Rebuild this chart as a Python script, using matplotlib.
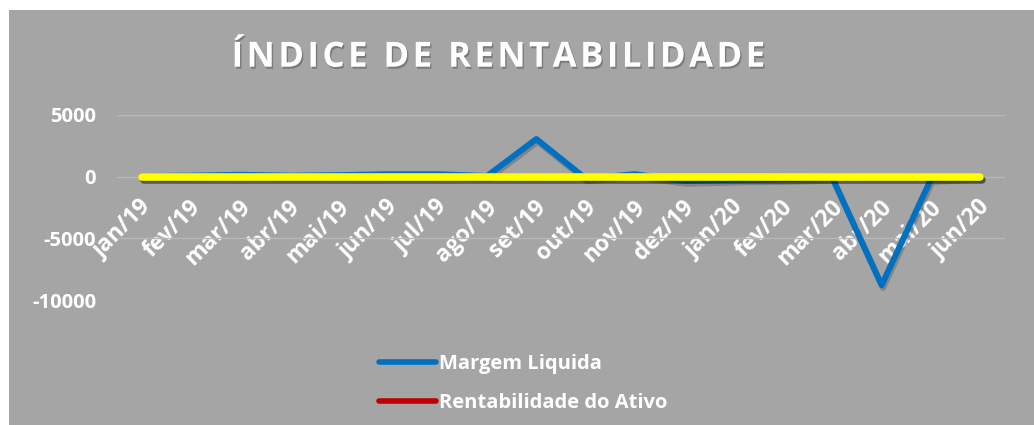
import matplotlib.pyplot as plt
import matplotlib.patheffects as pe
import matplotlib.transforms as mtransforms
import numpy as np

meses = ['jan/19', 'fev/19', 'mar/19', 'abr/19', 'mai/19', 'jun/19', 'jul/19', 'ago/19', 'set/19',
         'out/19', 'nov/19', 'dez/19', 'jan/20', 'fev/20', 'mar/20', 'abr/20', 'mai/20', 'jun/20']
margem_liquida = [50, 80, 150, 80, 120, 200, 200, 50, 3050,
                  -150, 200, -350, -250, -200, -100, -8800, -200, 0]
rentabilidade_ativo = [2, 2, 3, 2, 2, 3, 3, 2, 4,
                       1, 2, -60, -40, -20, 1, -5, 1, 1]
serie_amarela = [0, 0, 0, 0, 0, 0, 0, 0, 0,
                 0, 0, 0, 0, 0, 0, 0, 0, 0]
y_ticks = [5000, 0, -5000, -10000]
titulo = 'ÍNDICE DE RENTABILIDADE'

fundo = '#a5a5a5'
fonte = 'Open Sans'

fig = plt.figure(figsize=(10.34, 4.25), dpi=100, facecolor='white')
fig.patches.append(plt.Rectangle((9 / 1034, 0), 1, 1 - 10 / 425, transform=fig.transFigure,
                                 facecolor=fundo, edgecolor='none', zorder=-10))
ax = fig.add_axes([117 / 1034, 1 - 300 / 425, (1005 - 117) / 1034, (300 - 115) / 425])
ax.set_facecolor('none')

x = np.arange(len(meses))
sombra_leve = [pe.SimpleLineShadow(offset=(1, -2), shadow_color='black', alpha=0.2), pe.Normal()]
sombra = [pe.SimpleLineShadow(offset=(1.5, -2.5), shadow_color='black', alpha=0.45), pe.Normal()]
ax.plot(x, margem_liquida, color='#0070c0', lw=4.3, solid_joinstyle='round',
        solid_capstyle='round', label='Margem Liquida', path_effects=sombra_leve, zorder=3)
ax.plot(x, rentabilidade_ativo, color='#c00000', lw=4.3, solid_capstyle='round',
        label='Rentabilidade do Ativo', zorder=4)
ax.plot(x, serie_amarela, color='#ffff00', lw=5.5, solid_capstyle='round',
        label='_nolegend_', path_effects=sombra, zorder=5)

ax.set_xlim(-0.5, len(meses) - 0.5)
ax.set_ylim(-10000, 5000)
ax.set_yticks(y_ticks)
ax.set_yticklabels([str(v) for v in y_ticks])
ax.grid(axis='y', color='#b8b8b8', lw=1)
ax.set_axisbelow(True)
for s in ['top', 'right', 'left']:
    ax.spines[s].set_visible(False)
ax.spines['bottom'].set_position(('data', 0))
ax.spines['bottom'].set_visible(False)
ax.tick_params(axis='both', length=0)
ax.tick_params(axis='y', pad=15, labelsize=14.5, labelcolor='white')

ax.set_xticks(x)
ax.set_xticklabels(meses, rotation=45, ha='right', va='top', rotation_mode='anchor',
                   fontsize=16.5, color='white', fontweight='bold', family=fonte)
desloc = mtransforms.ScaledTranslation(-2 / 100, -14 / 100, fig.dpi_scale_trans)
for lbl in ax.get_xticklabels():
    lbl.set_transform(lbl.get_transform() + desloc)
for lbl in ax.get_yticklabels():
    lbl.set_fontweight('bold')
    lbl.set_family(fonte)

# espaçamento entre letras do título
titulo_esp = '\u200a'.join(titulo)
fig.text(0.4826, 1 - 66.7 / 425, titulo_esp, ha='center', va='baseline',
         fontsize=25, fontweight='bold', color='white', family=[fonte, 'DejaVu Sans'],
         path_effects=[pe.withSimplePatchShadow(offset=(1, -1.5), shadow_rgbFace='black', alpha=0.25)])

leg = fig.legend(loc='center', bbox_to_anchor=(0.506, 1 - 383.5 / 425), frameon=False,
                 handlelength=2.85, handletextpad=0.15, labelspacing=0.92,
                 prop={'family': fonte, 'weight': 'bold', 'size': 14.5})
for t in leg.get_texts():
    t.set_color('white')
for h in leg.legend_handles:
    h.set_path_effects([])
    h.set_linewidth(4)
    h.set_solid_capstyle('round')

fig.savefig('out.png', dpi=100, facecolor='white')
